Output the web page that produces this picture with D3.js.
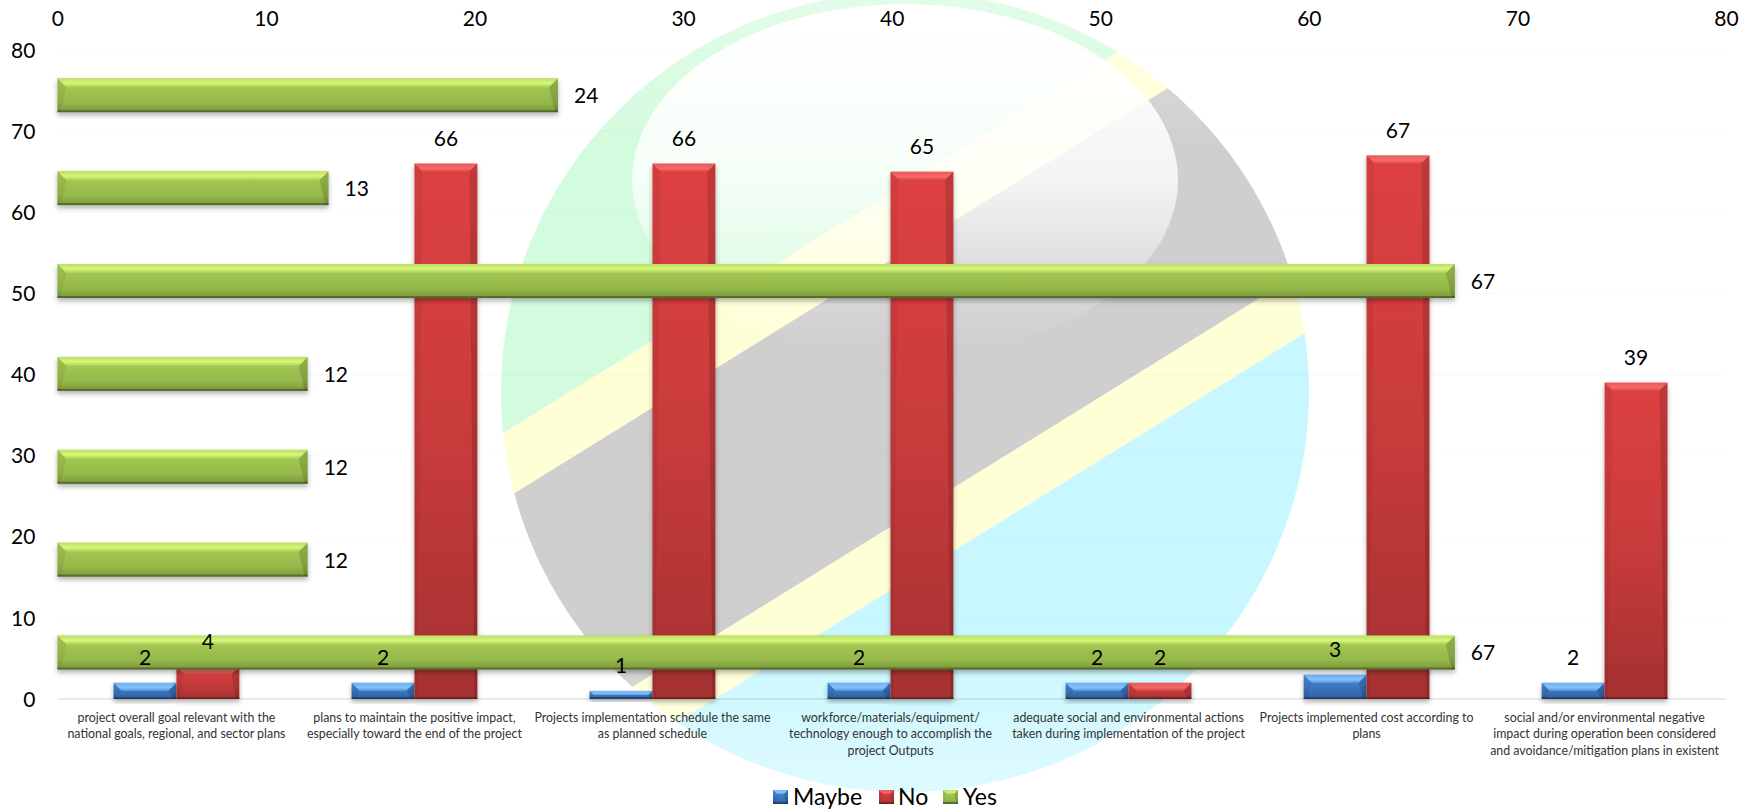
<!DOCTYPE html>
<html>
<head>
<meta charset="utf-8">
<script src="https://cdn.jsdelivr.net/npm/d3@7"></script>
<style>
  html, body { margin: 0; padding: 0; background: #fff; }
  svg { display: block; }
  text { font-family: Lato, "Open Sans", sans-serif; }
</style>
</head>
<body>
<svg id="chart" width="1756" height="809"></svg>
<script>
// Survey responses per project-assessment question
const categories = [
  "project overall goal relevant with the\nnational goals, regional, and sector plans",
  "plans to maintain the positive impact,\nespecially toward the end of the project",
  "Projects implementation schedule the same\nas planned schedule",
  "workforce/materials/equipment/\ntechnology enough to accomplish the\nproject Outputs",
  "adequate social and environmental actions\ntaken during implementation of the project",
  "Projects implemented cost according to\nplans",
  "social and/or environmental negative\nimpact during operation been considered\nand avoidance/mitigation plans in existent"
];
const maybeValues = [2, 2, 1, 2, 2, 3, 2];
const noValues = [4, 66, 66, 65, 2, 67, 39];
const yesValues = [67, 12, 12, 12, 67, 13, 24];
const axisTicks = [0, 10, 20, 30, 40, 50, 60, 70, 80];
const legendLabels = ["Maybe", "No", "Yes"];

const plotLeft = 57.4, plotRight = 1726, plotTop = 50, plotBottom = 699;
const svg = d3.select("#chart");
const defs = svg.append("defs");

const shadow = defs.append("filter").attr("id", "barShadow")
  .attr("x", "-10%").attr("y", "-20%").attr("width", "120%").attr("height", "150%");
shadow.append("feDropShadow").attr("dx", 0).attr("dy", 3).attr("stdDeviation", 2.6)
  .attr("flood-color", "#000").attr("flood-opacity", 0.3);

function gradient(id, stops) {
  const g = defs.append("linearGradient").attr("id", id)
    .attr("x1", 0).attr("y1", 0).attr("x2", 0).attr("y2", 1);
  stops.forEach(([o, c, a]) => g.append("stop").attr("offset", o)
    .attr("stop-color", c).attr("stop-opacity", a === undefined ? 1 : a));
  return g;
}
gradient("fillMaybe", [[0, "#4a8ad8"], [0.45, "#3d78c4"], [1, "#2f5f9f"]]);
gradient("fillNo", [[0, "#de4141"], [0.5, "#c93b3b"], [1, "#a53131"]]);
gradient("fillYes", [[0, "#a8cc56"], [0.35, "#a0c450"], [0.72, "#94b84a"], [1, "#7a973b"]]);
gradient("facetMaybe", [[0, "#8ccaff", 0.6], [0.6, "#86c6ff", 0.95], [1, "#6fb0f5", 0.6]]);
gradient("facetNo", [[0, "#ff8080", 0.35], [0.6, "#ff7b7b", 0.7], [1, "#f06060", 0.4]]);
gradient("facetYes", [[0, "#cfee74", 0.55], [0.55, "#d8f878", 1], [1, "#bbdc62", 0.5]]);
gradient("gloss", [[0, "#fff", 1], [0.5, "#fff", 0.78], [0.8, "#fff", 0.22], [0.97, "#fff", 0]]);
gradient("emblemFade", [[0, "#fff", 0.35], [0.2, "#fff", 0], [0.8, "#fff", 0], [1, "#fff", 0.4]]);

// Washed-out round flag emblem behind the plot
(function drawEmblem() {
  const cx = 905, cy = 392, rx = 404, ry = 400, slope = -0.62;
  defs.append("clipPath").attr("id", "emblemClip").append("ellipse")
    .attr("cx", cx).attr("cy", cy).attr("rx", rx).attr("ry", ry);
  const emblem = svg.append("g").attr("clip-path", "url(#emblemClip)");
  const xa = cx - rx - 10, xb = cx + rx + 10;
  const band = (y1, y2, fill) => {
    const ya = d => d + slope * (xa - cx), yb = d => d + slope * (xb - cx);
    emblem.append("polygon").attr("fill", fill).attr("points",
      [[xa, ya(y1)], [xb, yb(y1)], [xb, yb(y2)], [xa, ya(y2)]].join(" "));
  };
  band(-600, 184, "#d3fbdd");
  band(184, 251, "#ffffd6");
  band(251, 518, "#cfcfcf");
  band(518, 581, "#ffffd6");
  band(581, 1300, "#c8f7ff");
  emblem.append("rect").attr("x", xa).attr("y", cy - ry).attr("width", xb - xa).attr("height", 2 * ry)
    .attr("fill", "url(#emblemFade)");
  svg.append("ellipse").attr("cx", 905).attr("cy", 180).attr("rx", 273).attr("ry", 176)
    .attr("fill", "url(#gloss)");
})();

const xValue = d3.scaleLinear().domain([0, 80]).range([plotLeft, plotRight]);
const yValue = d3.scaleLinear().domain([0, 80]).range([plotBottom, plotTop]);
const indices = d3.range(categories.length);
const xBand = d3.scaleBand().domain(indices).range([plotLeft, plotRight - 2.4])
  .paddingInner(0.4715).paddingOuter(0.2358);
const xSeries = d3.scaleBand().domain(["Maybe", "No"]).range([0, xBand.bandwidth()]);
const yBand = d3.scaleBand().domain(indices).range([plotBottom, plotTop - 1.2])
  .paddingInner(0.634).paddingOuter(0.317);

// Faint horizontal gridlines and the category baseline
svg.append("g").selectAll("line").data(axisTicks).join("line")
  .attr("x1", plotLeft).attr("x2", plotRight)
  .attr("y1", d => yValue(d)).attr("y2", d => yValue(d))
  .attr("stroke", "#000")
  .attr("stroke-width", d => d === 0 ? 2 : 1)
  .attr("stroke-opacity", d => d === 0 ? 0.08 : 0.025);

// One bevelled bar: gradient body plus lit top facet and darker side facets
function bevelBar(parent, x, y, w, h, seriesName, depth, useShadow) {
  const g = parent.append("g");
  if (useShadow) g.attr("filter", "url(#barShadow)");
  g.append("rect").attr("x", x).attr("y", y).attr("width", w).attr("height", h)
    .attr("fill", `url(#fill${seriesName})`);
  const d = Math.min(depth, h / 2, w / 2);
  const side = Math.min(d * 0.4, 3);
  g.append("polygon").attr("fill", `url(#facet${seriesName})`).attr("points",
    [[x, y], [x + w, y], [x + w - d, y + d], [x + d, y + d]].join(" "));
  g.append("polygon").attr("fill", "#000").attr("fill-opacity", 0.06).attr("points",
    [[x, y], [x + d, y + d], [x + side, y + h], [x, y + h]].join(" "));
  g.append("polygon").attr("fill", "#000").attr("fill-opacity", 0.14).attr("points",
    [[x + w, y], [x + w - d, y + d], [x + w - side, y + h], [x + w, y + h]].join(" "));
  const edge = Math.min(2, h / 4);
  g.append("rect").attr("x", x).attr("y", y + h - edge).attr("width", w)
    .attr("height", edge).attr("fill", "#000").attr("fill-opacity", 0.3);
}

const columns = svg.append("g");
const rows = svg.append("g");

// Columns for Maybe and No
[["Maybe", maybeValues], ["No", noValues]].forEach(([name, values]) => {
  values.forEach((v, i) => {
    const x = xBand(i) + xSeries(name);
    bevelBar(columns, x, yValue(v), xSeries.bandwidth(), plotBottom - yValue(v), name, 8, true);
  });
});

// Horizontal Yes bars cross over the columns
yesValues.forEach((v, i) => {
  bevelBar(rows, plotLeft, yBand(i), xValue(v) - plotLeft, yBand.bandwidth(), "Yes", 9, true);
});

// Value labels sit above everything
const valueLabels = svg.append("g").attr("font-size", 21).attr("fill", "#000");
[["Maybe", maybeValues], ["No", noValues]].forEach(([name, values]) => {
  valueLabels.selectAll(null).data(values).join("text")
    .attr("text-anchor", "middle")
    .attr("x", (d, i) => xBand(i) + xSeries(name) + xSeries.bandwidth() / 2)
    .attr("y", d => yValue(d) - 25)
    .attr("dy", "0.35em")
    .text(d => d);
});
valueLabels.selectAll(null).data(yesValues).join("text")
  .attr("x", d => xValue(d) + 16)
  .attr("y", (d, i) => yBand(i) + yBand.bandwidth() / 2 + 0.5)
  .attr("dy", "0.35em")
  .text(d => d);

// Value axes along the top and the left
const topAxis = svg.append("g").attr("transform", `translate(0,${plotTop})`)
  .call(d3.axisTop(xValue).tickValues(axisTicks).tickSize(0).tickPadding(24));
const leftAxis = svg.append("g").attr("transform", `translate(${plotLeft},0.5)`)
  .call(d3.axisLeft(yValue).tickValues(axisTicks).tickSize(0).tickPadding(22));
[topAxis, leftAxis].forEach(a => {
  a.select(".domain").remove();
  a.selectAll("text").attr("font-size", 21).attr("fill", "#000")
    .style("font-family", "Lato, 'Open Sans', sans-serif");
});

// Wrapped category captions below the baseline
const captions = svg.append("g").attr("font-size", 12.4).attr("fill", "#333")
  .attr("text-anchor", "middle");
categories.forEach((c, i) => {
  const text = captions.append("text").attr("y", 721.5);
  c.split("\n").forEach((line, k) => {
    text.append("tspan").attr("x", xBand(i) + xBand.bandwidth() / 2)
      .attr("dy", k === 0 ? 0 : 16.7).text(line);
  });
});

// Legend row
const legend = svg.append("g");
const legendX = d3.scaleOrdinal().domain(legendLabels).range([773, 879, 943]);
const legendText = d3.scaleOrdinal().domain(legendLabels).range([793, 898, 963]);
legendLabels.forEach(name => {
  bevelBar(legend, legendX(name), 790, 15, 14, name, 4, false);
  legend.append("text").attr("x", legendText(name)).attr("y", 797).attr("dy", "0.35em")
    .attr("font-size", 23).attr("fill", "#000").text(name);
});
</script>
</body>
</html>
